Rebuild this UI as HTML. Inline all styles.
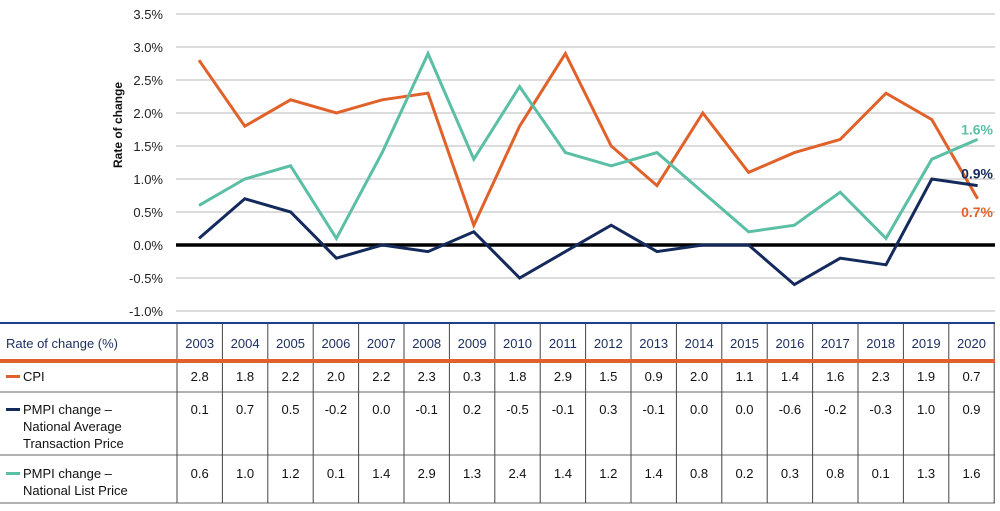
<!DOCTYPE html>
<html><head><meta charset="utf-8"><style>
body{margin:0;background:#fff;font-family:"Liberation Sans",sans-serif}
svg{display:block}
</style></head><body>
<svg width="1000" height="511" viewBox="0 0 1000 511">
<g id="grid"></g><g id="lines"></g><g id="table"></g>
</svg>
<script>
const years=["2003","2004","2005","2006","2007","2008","2009","2010","2011","2012","2013","2014","2015","2016","2017","2018","2019","2020"];
const cpi=[2.8,1.8,2.2,2.0,2.2,2.3,0.3,1.8,2.9,1.5,0.9,2.0,1.1,1.4,1.6,2.3,1.9,0.7];
const pmpiAvg=[0.1,0.7,0.5,-0.2,0.0,-0.1,0.2,-0.5,-0.1,0.3,-0.1,0.0,0.0,-0.6,-0.2,-0.3,1.0,0.9];
const pmpiList=[0.6,1.0,1.2,0.1,1.4,2.9,1.3,2.4,1.4,1.2,1.4,0.8,0.2,0.3,0.8,0.1,1.3,1.6];
const yTicks=[3.5,3.0,2.5,2.0,1.5,1.0,0.5,0.0,-0.5,-1.0];
const NS="http://www.w3.org/2000/svg";
const y=v=>245-v*66;
const x=i=>199+i*45.8;
function mk(p,t,a){const e=document.createElementNS(NS,t);for(const k in a)e.setAttribute(k,a[k]);p.appendChild(e);return e;}
const grid=document.getElementById('grid'),lines=document.getElementById('lines'),tbl=document.getElementById('table');
yTicks.forEach(v=>{
 const l=mk(grid,'line',{x1:176,x2:995,y1:y(v),y2:y(v),stroke:'#c8c8c8','stroke-width':1.3});
 
 
 const t=mk(grid,'text',{x:163,y:y(v)+5,'text-anchor':'end','font-size':13,fill:'#222'});
 t.textContent=v.toFixed(1)+'%';
 
 
});
const z=mk(grid,'line',{x1:176,x2:995,y1:y(0),y2:y(0),stroke:'#000','stroke-width':3.5});


const yt=mk(grid,'text',{x:0,y:0,transform:'translate(122,125) rotate(-90)','text-anchor':'middle','font-size':12,'font-weight':'bold',fill:'#111'});
yt.textContent='Rate of change';


const series=[[cpi,'#e0622a','cpi-line'],[pmpiList,'#5bbfa5','pmpi-list-line'],[pmpiAvg,'#152a5c','pmpi-avg-line']];
const labelOff={'cpi-line':y(0.7)+13,'pmpi-list-line':y(1.6)-10,'pmpi-avg-line':y(0.9)-12};
series.forEach(([d,c,n])=>{
 const p=mk(lines,'polyline',{points:d.map((v,i)=>x(i)+','+y(v)).join(' '),fill:'none',stroke:c,'stroke-width':3,'stroke-linejoin':'miter'});
 
 
 const t=mk(lines,'text',{x:993,y:labelOff[n]+5,'text-anchor':'end','font-size':14,fill:c,'font-weight':'bold'});
 t.textContent=d[d.length-1].toFixed(1)+'%';
 
 
});
const cx=i=>177+i*45.4;
mk(tbl,'line',{x1:0,x2:995,y1:323,y2:323,stroke:'#1b3f8a','stroke-width':2});
[392,455,503].forEach(yy=>mk(tbl,'line',{x1:0,x2:995,y1:yy,y2:yy,stroke:'#666','stroke-width':1}));
for(let i=0;i<=18;i++){mk(tbl,'line',{x1:cx(i),x2:cx(i),y1:323,y2:503,stroke:'#444','stroke-width':1});}
mk(tbl,'line',{x1:0,x2:995,y1:361,y2:361,stroke:'#e0622a','stroke-width':4});
const h=mk(tbl,'text',{x:6,y:348,'font-size':13,fill:'#1b2e5e'});h.textContent='Rate of change (%)';

years.forEach((yr,i)=>{
 const t=mk(tbl,'text',{x:cx(i)+22.7,y:348,'text-anchor':'middle','font-size':13,fill:'#1b2e5e'});
 t.textContent=yr;
 
 
});
const rowDefs=[[cpi,'#e0622a',['CPI'],381],[pmpiAvg,'#152a5c',['PMPI change –','National Average','Transaction Price'],414],[pmpiList,'#5bbfa5',['PMPI change –','National List Price'],478]];
rowDefs.forEach(([d,c,lab,ty])=>{
 mk(tbl,'line',{x1:6,x2:20,y1:ty-4.5,y2:ty-4.5,stroke:c,'stroke-width':3});
 lab.forEach((s,k)=>{const t=mk(tbl,'text',{x:23,y:ty+k*17,'font-size':13,fill:'#111'});t.textContent=s;
  });
 d.forEach((v,i)=>{
  const t=mk(tbl,'text',{x:cx(i)+22.7,y:ty,'text-anchor':'middle','font-size':13,fill:'#111'});
  t.textContent=v.toFixed(1);
  
  
 });
});
</script>
</body></html>
